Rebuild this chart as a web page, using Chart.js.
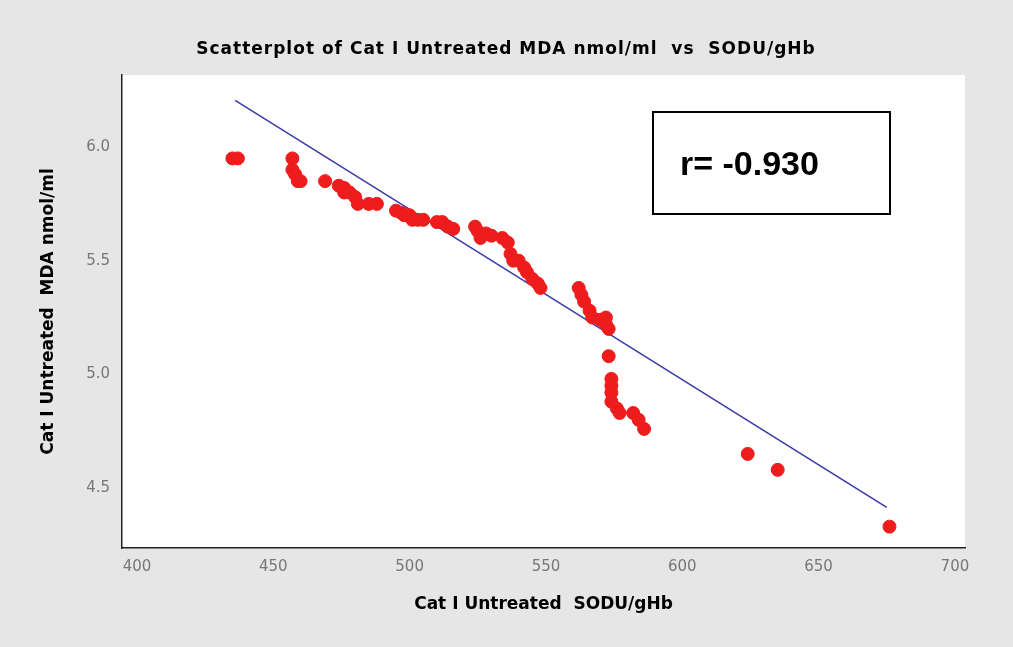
<!DOCTYPE html>
<html><head><script src="https://cdn.jsdelivr.net/npm/chart.js"></script>
<style>html,body{margin:0;background:#e6e6e6}canvas{display:block}</style></head>
<body><div style="width:1013px;height:647px"><canvas id="c"></canvas></div>
<script>
const sodX=[435,437,457,457,458,459,460,469,474,476,476,478,480,481,485,488,495,497,498,500,501,503,505,510,512,514,516,524,525,526,528,530,534,536,537,538,540,542,543,545,547,548,562,563,564,566,567,570,572,572,573,573,574,574,574,574,576,577,582,584,586,624,635,676];
const mdaY=[5.95,5.95,5.95,5.9,5.88,5.85,5.85,5.85,5.83,5.82,5.8,5.8,5.78,5.75,5.75,5.75,5.72,5.71,5.7,5.7,5.68,5.68,5.68,5.67,5.67,5.65,5.64,5.65,5.63,5.6,5.62,5.61,5.6,5.58,5.53,5.5,5.5,5.47,5.45,5.42,5.4,5.38,5.38,5.35,5.32,5.28,5.25,5.24,5.25,5.22,5.2,5.08,4.98,4.95,4.92,4.88,4.85,4.83,4.83,4.8,4.76,4.65,4.58,4.33];
const fitX=[436,675], fitY=[6.205,4.415];
const xTicks=[400,450,500,550,600,650,700], yTicks=[4.5,5.0,5.5,6.0];
const deco={id:'deco',afterDraw(ch){const c=ch.ctx;c.save();
c.fillStyle='#000';c.font='bold 17px "DejaVu Sans"';c.textAlign='center';
c.letterSpacing='1px';c.fillText('Scatterplot of Cat I Untreated MDA nmol/ml  vs  SODU/gHb',506,54);
c.strokeStyle='#000';c.lineWidth=2;c.strokeRect(653,112,237,102);
c.font='bold 34px "Liberation Sans"';c.textAlign='left';c.letterSpacing='0px';c.fillText('r= -0.930',680,175);c.restore();}};
new Chart(document.getElementById('c'),{type:'scatter',
data:{datasets:[
{data:sodX.map((x,i)=>({x,y:mdaY[i]})),backgroundColor:'#ee1c1c',borderColor:'#ee1c1c',pointRadius:6.5,pointHoverRadius:6.5},
{type:'line',data:fitX.map((x,i)=>({x,y:fitY[i]})),borderColor:'#3a3aa8',borderWidth:1.5,pointRadius:0,fill:false}]},
options:{animation:false,responsive:true,maintainAspectRatio:false,
layout:{padding:{top:75,right:48,left:34,bottom:28}},
plugins:{legend:{display:false},tooltip:{enabled:false}},
scales:{
x:{type:'linear',min:394.5,max:703.7,afterFit:s=>{s.height=71},
afterBuildTicks:s=>{s.ticks=xTicks.map(v=>({value:v}))},
grid:{display:false,drawTicks:true,tickLength:6,color:'#222'},border:{color:'#222',width:1.5},
ticks:{color:'#777',font:{size:15,family:'DejaVu Sans'},padding:4},
title:{display:true,text:'Cat I Untreated  SODU/gHb',color:'#000',font:{size:17,weight:'bold',family:'DejaVu Sans'},padding:{top:10}}},
y:{min:4.236,max:6.317,afterFit:s=>{s.width=88},
afterBuildTicks:s=>{s.ticks=yTicks.map(v=>({value:v}))},
grid:{display:false,drawTicks:true,tickLength:6,color:'#222'},border:{color:'#222',width:1.5},
ticks:{color:'#777',font:{size:15,family:'DejaVu Sans'},callback:v=>v.toFixed(1),padding:6},
title:{display:true,text:'Cat I Untreated  MDA nmol/ml',color:'#000',font:{size:17,weight:'bold',family:'DejaVu Sans'},padding:{bottom:12}}}}},
plugins:[{id:'bg',beforeDraw(ch){const a=ch.chartArea,c=ch.ctx;c.save();c.fillStyle='#fff';c.fillRect(a.left,a.top,a.right-a.left,a.bottom-a.top);c.restore();}},deco]});
</script></body></html>
